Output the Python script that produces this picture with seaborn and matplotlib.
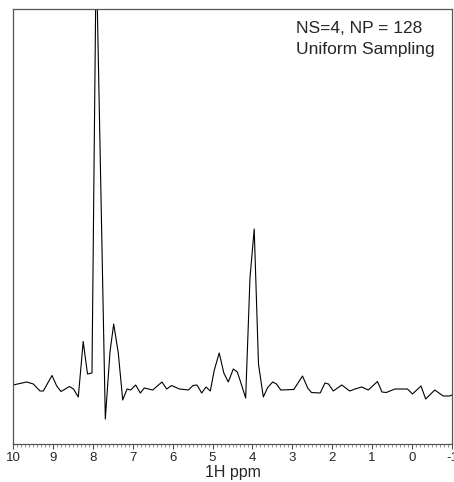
import matplotlib
matplotlib.use("Agg")
import matplotlib.pyplot as plt
import seaborn as sns
import pandas as pd
from matplotlib.ticker import MultipleLocator

# Chemical shift (ppm) and intensity (arbitrary units)
ppm = [10.00, 9.657, 9.491, 9.323, 9.241, 9.023, 8.905, 8.797, 8.584, 8.484,
       8.364, 8.241, 8.133, 8.021, 7.915, 7.687, 7.570, 7.477, 7.362, 7.251,
       7.143, 7.051, 6.926, 6.810, 6.710, 6.500, 6.267, 6.149, 6.028, 5.828,
       5.603, 5.490, 5.390, 5.272, 5.164, 5.056, 4.956, 4.833, 4.717, 4.606,
       4.480, 4.380, 4.313, 4.170, 4.062, 3.956, 3.849, 3.728, 3.618, 3.493,
       3.398, 3.290, 2.964, 2.746, 2.616, 2.521, 2.303, 2.183, 2.095, 1.975,
       1.762, 1.564, 1.430, 1.263, 1.098, 0.867, 0.755, 0.647, 0.429, 0.116,
       -0.010, -0.223, -0.340, -0.568, -0.779, -0.937, -1.000]
intensity = [59, 62, 60, 53, 53, 68.5, 58, 52.5, 57.5, 55,
             47, 102.5, 70, 71, 494, 25, 92, 120, 91, 44,
             55, 54, 59, 51, 56, 54, 62, 55, 58.5, 55,
             54, 58.5, 59, 51, 57, 53, 74, 91, 71, 62,
             75, 72, 64, 46, 166, 215, 80, 47, 56.5, 62,
             60, 54, 54.5, 68, 56, 51.5, 51, 61, 60, 53,
             59, 53, 55, 57, 54, 62.5, 52, 51.5, 55, 55,
             50, 58, 45, 54, 48, 48, 49]

x_ticks = [10, 9, 8, 7, 6, 5, 4, 3, 2, 1, 0, -1]
x_label = "1H ppm"
annotation = "NS=4, NP = 128\nUniform Sampling"

df = pd.DataFrame({"ppm": ppm, "intensity": intensity})

sns.set_style("white")
plt.rcParams["font.family"] = ["Liberation Sans", "DejaVu Sans"]

fig = plt.figure(figsize=(4.54, 4.82), dpi=100)
ax = fig.add_axes([13 / 454, 38 / 482, 439 / 454, 435 / 482])

sns.lineplot(data=df, x="ppm", y="intensity", ax=ax, color="black",
             linewidth=0.8, estimator=None)

ax.set_xlim(10, -1)
ax.set_ylim(0, 435)
ax.set_xticks(x_ticks)
ax.set_xticklabels([str(t) for t in x_ticks])
ax.xaxis.set_minor_locator(MultipleLocator(0.1))
ax.set_yticks([])
ax.set_ylabel("")
ax.set_xlabel(x_label, fontsize=11.5, labelpad=1)

ax.tick_params(axis="x", which="major", direction="out", length=3.5,
               width=0.7, color="#444444", labelsize=9.5, pad=2, bottom=True)
ax.tick_params(axis="x", which="minor", direction="out", length=2,
               width=0.5, color="#666666", bottom=True)

for s in ax.spines.values():
    s.set_visible(True)
    s.set_color("#555555")
    s.set_linewidth(0.9)

ax.text(0.645, 0.972, annotation, transform=ax.transAxes, ha="left",
        va="top", fontsize=12.5, linespacing=1.5)

fig.savefig("out.png", dpi=100)
